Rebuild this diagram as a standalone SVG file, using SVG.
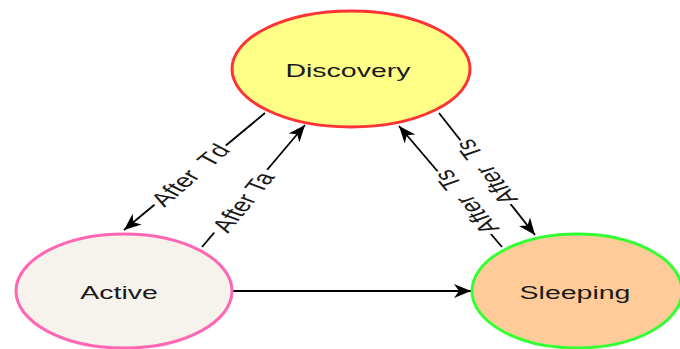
<svg xmlns="http://www.w3.org/2000/svg" width="680" height="349" viewBox="0 0 680 349">
<style>
.lbl{font-family:"Liberation Sans",Arial,sans-serif;font-size:19px;fill:#1a1a1a;text-anchor:middle;dominant-baseline:central}
.elbl{font-family:"Liberation Sans",Arial,sans-serif;font-size:19px;fill:#1a1a1a;text-anchor:middle;dominant-baseline:central}
.edge{stroke:#000;stroke-width:1.8;fill:none;marker-end:url(#arr)}
.bg{fill:#fff}
</style>
<defs>
<marker id="arr" markerUnits="userSpaceOnUse" markerWidth="18" markerHeight="14" viewBox="0 0 18 14" refX="17" refY="7" orient="auto">
<path d="M0,0 L17,7 L0,14 L5,7 z" fill="#000"/>
</marker>
</defs>
<rect width="680" height="349" fill="#fff"/>
<g id="connectors">
<line class="edge" x1="265" y1="113" x2="124" y2="230"/>
<line class="edge" x1="202" y1="247" x2="305" y2="125"/>
<line class="edge" x1="439" y1="113" x2="535" y2="235"/>
<line class="edge" x1="502" y1="247" x2="399" y2="126"/>
<line class="edge" x1="233" y1="291" x2="471" y2="291"/>
<g transform="translate(190,175) scale(1.5,1) rotate(-52)">
<rect class="bg" x="-38" y="-10" width="76" height="20"/>
<text class="elbl" x="0" y="0" xml:space="preserve">After  Td</text>
</g>
<g transform="translate(243,202) scale(1.5,1) rotate(-61)">
<rect class="bg" x="-36" y="-10" width="72" height="20"/>
<text class="elbl" x="0" y="0">After Ta</text>
</g>
<g transform="translate(486,172) scale(1.5,1) rotate(-117)">
<rect class="bg" x="-36" y="-10" width="72" height="20"/>
<text class="elbl" x="0" y="0" xml:space="preserve">After  Ts</text>
</g>
<g transform="translate(466,202) scale(1.5,1) rotate(-119)">
<rect class="bg" x="-36" y="-10" width="72" height="20"/>
<text class="elbl" x="0" y="0" xml:space="preserve">After  Ts</text>
</g>
</g>
<g id="discovery">
<ellipse cx="351" cy="69" rx="119" ry="58" fill="#ffff88" stroke="#ff3333" stroke-width="3"/>
<text class="lbl" transform="translate(348,70) scale(1.5,1)">Discovery</text>
</g>
<g id="active">
<ellipse cx="124" cy="291" rx="108" ry="57" fill="#f6f3ec" stroke="#ff66b3" stroke-width="3"/>
<text class="lbl" transform="translate(119,292) scale(1.5,1)">Active</text>
</g>
<g id="sleeping">
<ellipse cx="577" cy="291" rx="105" ry="57" fill="#ffcc99" stroke="#33ff33" stroke-width="3"/>
<text class="lbl" transform="translate(575,292) scale(1.5,1)">Sleeping</text>
</g>
</svg>
